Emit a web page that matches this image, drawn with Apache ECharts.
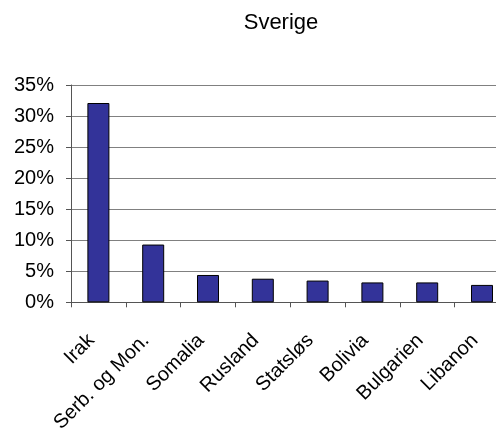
<!DOCTYPE html>
<html><head><meta charset="utf-8">
<script src="https://cdn.jsdelivr.net/npm/echarts@6/dist/echarts.min.js"></script>
<style>html,body{margin:0;padding:0;background:#fff}#c{width:496px;height:430px}</style>
</head><body><div id="c"></div>
<script>
var categories = ["Irak", "Serb. og Mon.", "Somalia", "Rusland", "Statsløs", "Bolivia", "Bulgarien", "Libanon"];
var values = [0.321, 0.093, 0.044, 0.038, 0.035, 0.032, 0.032, 0.028];
var titleText = "Sverige";

var FONT = 'Liberation Sans, Arial, sans-serif';
var chart = echarts.init(document.getElementById('c'), null, {renderer: 'canvas'});
chart.setOption({
  animation: false,
  backgroundColor: '#fff',
  textStyle: {fontFamily: FONT},
  title: {
    text: titleText, left: 276, top: 7, textAlign: 'center',
    textStyle: {fontSize: 22, fontWeight: 'normal', color: '#000', fontFamily: FONT}
  },
  grid: {left: 71, right: -13.4, top: 85, bottom: 127.7, containLabel: false, outerBoundsMode: 'none'},
  xAxis: {
    type: 'category', data: categories,
    axisLine: {lineStyle: {color: '#555', width: 1}},
    axisTick: {show: true, length: 5, lineStyle: {color: '#555'}, alignWithLabel: false},
    axisLabel: {rotate: 45, fontSize: 20, color: '#000', margin: 28, padding: [0, 10, 0, 0], interval: 0, fontFamily: FONT}
  },
  yAxis: {
    type: 'value', min: 0, max: 0.35, interval: 0.05,
    axisLine: {show: true, lineStyle: {color: '#555', width: 1}},
    axisTick: {show: true, length: 5, lineStyle: {color: '#555'}},
    axisLabel: {fontSize: 20, color: '#000', margin: 17, formatter: function(v){return Math.round(v*100) + '%';}, fontFamily: FONT},
    splitLine: {show: true, lineStyle: {color: '#808080', width: 1}}
  },
  series: [{
    type: 'bar', data: values, barWidth: 22,
    itemStyle: {color: '#333399', borderColor: '#000', borderWidth: 1}
  }]
});
</script></body></html>
